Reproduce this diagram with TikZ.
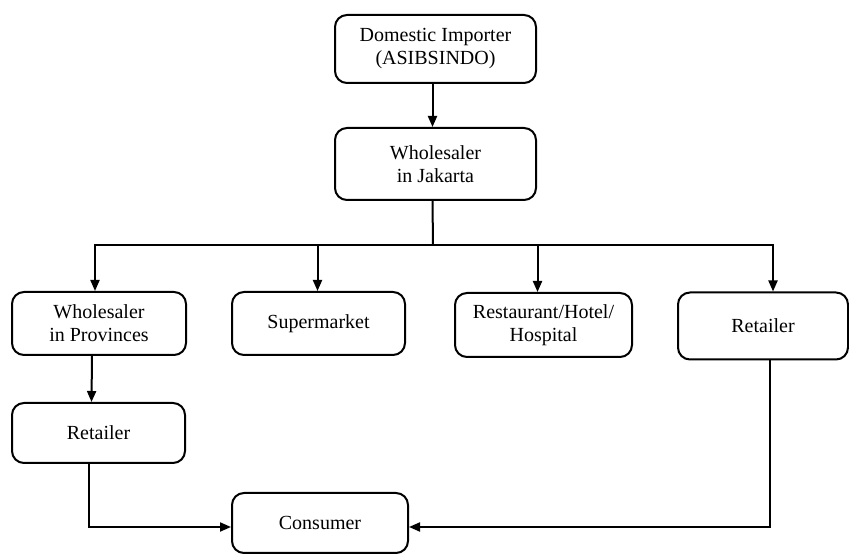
\documentclass[tikz,border=0pt]{standalone}
\usepackage{fontspec}
\setmainfont{Liberation Serif}
\usetikzlibrary{arrows.meta}

\begin{document}
\begin{tikzpicture}[x=1pt,y=1pt,
  box/.style={draw,line width=2pt,rounded corners=12pt,align=center,inner sep=0pt,
    font=\fontsize{20}{23}\selectfont},
  flow/.style={line width=2pt,-{Triangle[length=11pt,width=9pt]}},
  line/.style={line width=2pt}]%
\useasboundingbox (0,0) rectangle (849,554);%
% top of the chain
\node[box,minimum width=201pt,minimum height=68pt] (imp) at (435.5,505) {Domestic Importer\\(ASIBSINDO)};%
\node[box,minimum width=201pt,minimum height=72pt] (jak) at (435.5,390) {Wholesaler\\in Jakarta};%
% second row
\node[box,minimum width=174pt,minimum height=63pt] (prov) at (99,230.5) {Wholesaler\\in Provinces};%
\node[box,minimum width=173pt,minimum height=63pt] (sup) at (318.5,230.5) {Supermarket};%
\node[box,minimum width=177pt,minimum height=64pt] (rest) at (543.5,229) {Restaurant/Hotel/\\Hospital};%
\node[box,minimum width=170pt,minimum height=67pt] (retr) at (763,228) {Retailer};%
% bottom
\node[box,minimum width=173pt,minimum height=60pt] (retl) at (98.5,121) {Retailer};%
\node[box,minimum width=176pt,minimum height=60pt] (con) at (320,31) {Consumer};%
\coordinate (split) at (433,309);%
\coordinate (sink) at (0,27);%
% connectors
\draw[flow] ([xshift=-3pt]imp.south) -- ([xshift=-3pt]jak.north);%
\draw[line] ([xshift=-3pt]jak.south) -- (split);%
\draw[flow] (split) -| ([xshift=-4pt]prov.north);%
\draw[flow] (split) -| ([xshift=-1pt]sup.north);%
\draw[flow] (split) -| ([xshift=-6pt]rest.north);%
\draw[flow] (split) -| ([xshift=10pt]retr.north);%
\draw[flow] ([xshift=-7pt]prov.south) -- ([xshift=-7pt]retl.north);%
\draw[flow] ([xshift=-10pt]retl.south) |- (sink -| con.west);%
\draw[flow] ([xshift=7pt]retr.south) |- (sink -| con.east);%
\end{tikzpicture}
\end{document}
